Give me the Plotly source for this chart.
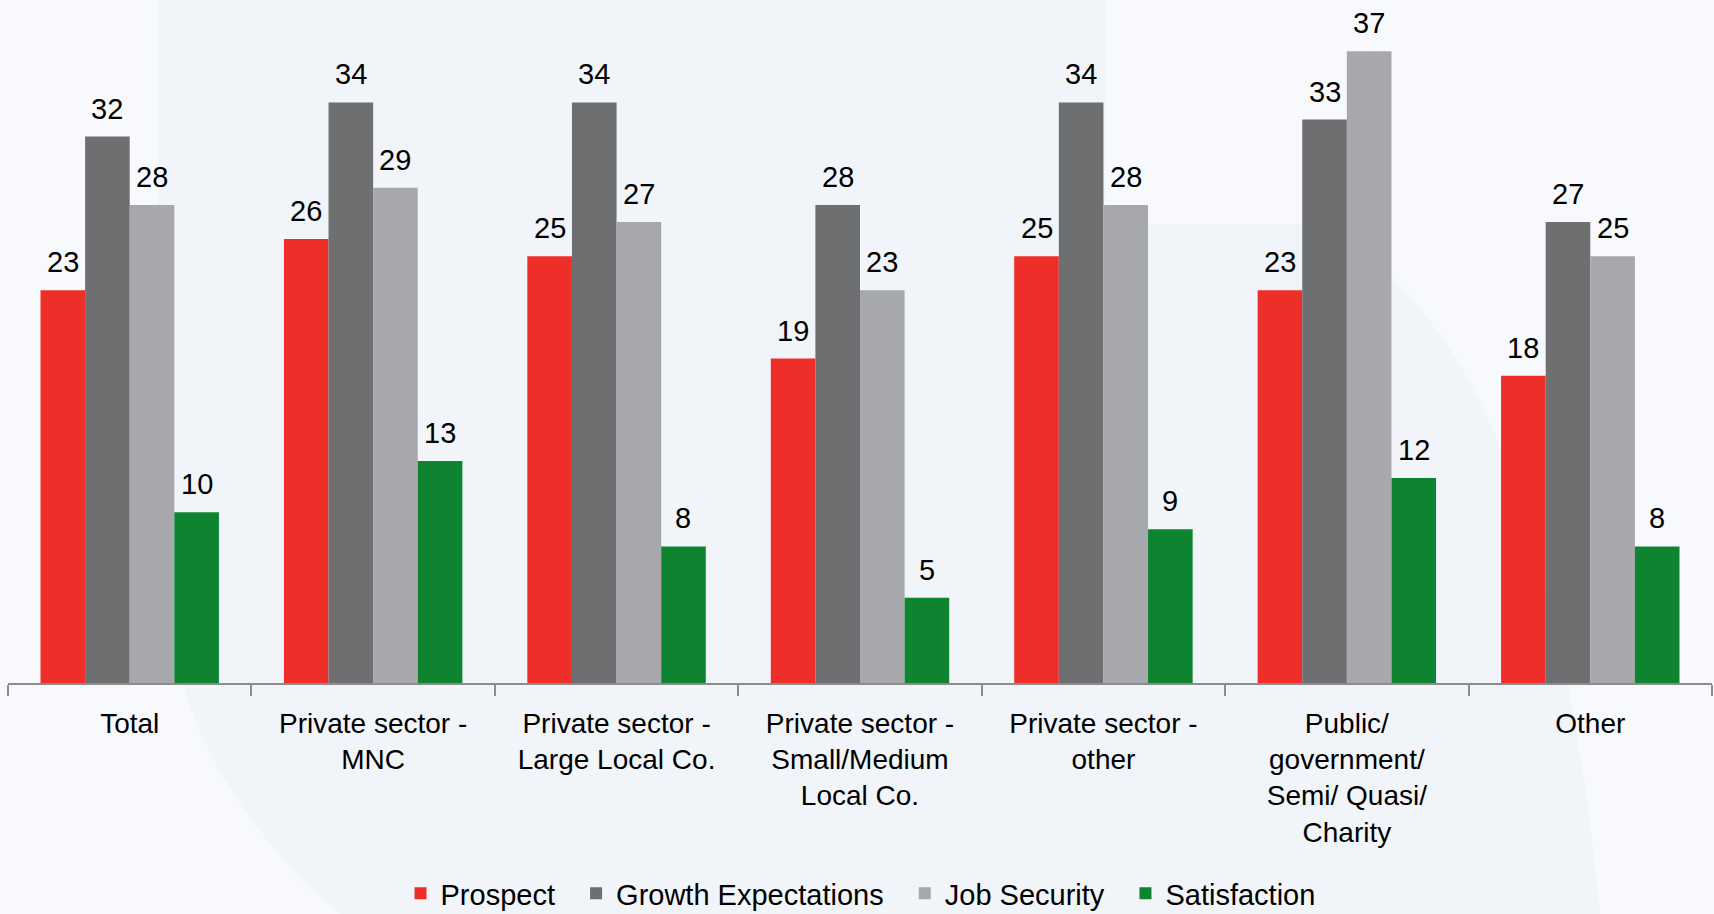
import plotly.graph_objects as go

# Employer segments shown along the x axis
categories = [
    "Total",
    "Private sector -<br>MNC",
    "Private sector -<br>Large Local Co.",
    "Private sector -<br>Small/Medium<br>Local Co.",
    "Private sector -<br>other",
    "Public/<br>government/<br>Semi/ Quasi/<br>Charity",
    "Other",
]

# Index scores per segment
prospect = [23, 26, 25, 19, 25, 23, 18]
growth_expectations = [32, 34, 34, 28, 34, 33, 27]
job_security = [28, 29, 27, 23, 28, 37, 25]
satisfaction = [10, 13, 8, 5, 9, 12, 8]

series = [
    ("Prospect", prospect, "#EE2E29"),
    ("Growth Expectations", growth_expectations, "#6E6F71"),
    ("Job Security", job_security, "#A7A8AB"),
    ("Satisfaction", satisfaction, "#0E8430"),
]

FONT = "Liberation Sans, Arial, sans-serif"
BARGAP = 0.267
n_series = len(series)
bar_w = (1 - BARGAP) / n_series
LEGEND_PAD = "\u00a0\u00a0"  # extra room after each legend entry

fig = go.Figure()
annotations = []
for k, (name, vals, color) in enumerate(series):
    fig.add_trace(go.Bar(
        name=name + LEGEND_PAD, x=categories, y=vals,
        marker=dict(color=color, line=dict(width=0)),
    ))
    # value labels sit above each bar, centred on its slot within the group
    offset = (k - (n_series - 1) / 2) * bar_w
    for i, v in enumerate(vals):
        annotations.append(dict(
            x=i + offset, y=v, xref="x", yref="y", text=str(v), showarrow=False,
            yanchor="bottom", yshift=10, font=dict(family=FONT, size=29, color="#000000"),
        ))

# Faint watermark shape behind the plot
def px_to_paper(px, py, left=8, top=0, w=1704, h=683):
    return (px - left) / w, 1 - (py - top) / h

pts = [(158, 0), (1105, 0), (1105, 224), (1300, 224)]
p = [px_to_paper(*q) for q in pts]
c1 = px_to_paper(1540, 300)
e1 = px_to_paper(1600, 914)
b1 = px_to_paper(340, 914)
c2 = px_to_paper(158, 760)
e2 = px_to_paper(158, 520)
path = (f"M {p[0][0]},{p[0][1]} L {p[1][0]},{p[1][1]} L {p[2][0]},{p[2][1]} "
        f"L {p[3][0]},{p[3][1]} Q {c1[0]},{c1[1]} {e1[0]},{e1[1]} "
        f"L {b1[0]},{b1[1]} Q {c2[0]},{c2[1]} {e2[0]},{e2[1]} Z")

fig.update_layout(
    width=1714, height=914,
    margin=dict(l=8, r=2, t=0, b=231, autoexpand=False),
    barmode="group", bargap=BARGAP, bargroupgap=0,
    paper_bgcolor="#F8F9FC", plot_bgcolor="rgba(0,0,0,0)",
    font=dict(family=FONT, size=28, color="#000000"),
    showlegend=True,
    legend=dict(
        orientation="h", x=0.505, xanchor="center", y=-0.308, yanchor="middle",
        font=dict(family=FONT, size=29, color="#000000"),
        itemwidth=30, tracegroupgap=0, bgcolor="rgba(0,0,0,0)",
    ),
    annotations=annotations,
    shapes=[dict(type="path", path=path, xref="paper", yref="paper",
                 fillcolor="#F1F4F9", line=dict(width=0), layer="below")],
)
fig.update_xaxes(
    type="category",
    showline=True, linecolor="#8C8C8C", linewidth=2,
    ticks="outside", tickson="boundaries", ticklen=11, tickwidth=2, tickcolor="#8C8C8C",
    ticklabelstandoff=14, showgrid=False, zeroline=False,
    tickfont=dict(family=FONT, size=28, color="#000000"),
)
fig.update_yaxes(range=[0, 40], visible=False, showgrid=False, zeroline=False)

fig.write_html("out.html")
